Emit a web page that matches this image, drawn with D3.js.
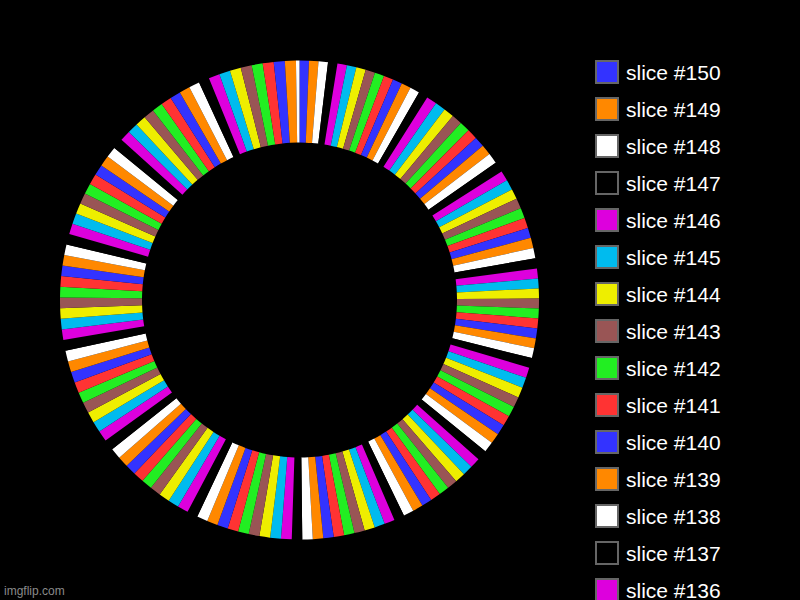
<!DOCTYPE html>
<html>
<head>
<meta charset="utf-8">
<script src="https://cdn.jsdelivr.net/npm/d3@7"></script>
<style>
  html, body { margin: 0; padding: 0; background: #000; overflow: hidden; }
  svg { display: block; }
</style>
</head>
<body>
<svg id="chart" width="800" height="600"></svg>
<script>
// Slice labels, in drawing order (clockwise from 12 o'clock)
const labels = [
  "slice #150","slice #149","slice #148","slice #147","slice #146","slice #145","slice #144","slice #143","slice #142","slice #141",
  "slice #140","slice #139","slice #138","slice #137","slice #136","slice #135","slice #134","slice #133","slice #132","slice #131",
  "slice #130","slice #129","slice #128","slice #127","slice #126","slice #125","slice #124","slice #123","slice #122","slice #121",
  "slice #120","slice #119","slice #118","slice #117","slice #116","slice #115","slice #114","slice #113","slice #112","slice #111",
  "slice #110","slice #109","slice #108","slice #107","slice #106","slice #105","slice #104","slice #103","slice #102","slice #101",
  "slice #100","slice #99","slice #98","slice #97","slice #96","slice #95","slice #94","slice #93","slice #92","slice #91",
  "slice #90","slice #89","slice #88","slice #87","slice #86","slice #85","slice #84","slice #83","slice #82","slice #81",
  "slice #80","slice #79","slice #78","slice #77","slice #76","slice #75","slice #74","slice #73","slice #72","slice #71",
  "slice #70","slice #69","slice #68","slice #67","slice #66","slice #65","slice #64","slice #63","slice #62","slice #61",
  "slice #60","slice #59","slice #58","slice #57","slice #56","slice #55","slice #54","slice #53","slice #52","slice #51",
  "slice #50","slice #49","slice #48","slice #47","slice #46","slice #45","slice #44","slice #43","slice #42","slice #41",
  "slice #40","slice #39","slice #38","slice #37","slice #36","slice #35","slice #34","slice #33","slice #32","slice #31",
  "slice #30","slice #29","slice #28","slice #27","slice #26","slice #25","slice #24","slice #23","slice #22","slice #21",
  "slice #20","slice #19","slice #18","slice #17","slice #16","slice #15","slice #14","slice #13","slice #12","slice #11",
  "slice #10","slice #9","slice #8"
];

// Slice values (estimated from the picture's angular widths)
const values = [
  228,228,228,228,
  231,231,231,231,231,231,231,231,231,231,
  253,253,253,253,253,253,253,253,253,253,
  249,249,249,249,249,249,249,249,249,249,
  240,240,240,240,240,240,240,240,240,240,
  252,252,252,252,252,252,252,252,252,252,
  250,250,250,250,250,250,250,250,250,250,
  252,252,252,252,252,252,252,252,252,252,
  260,260,260,260,260,260,260,260,260,260,
  262,262,262,262,262,262,262,262,262,262,
  263,263,263,263,263,263,263,263,263,263,
  256,256,256,256,256,256,256,256,256,256,
  260,260,260,260,260,260,260,260,260,260,
  258,258,258,258,258,258,258,258,258,258,
  267,267,267,267,267,267,267,267,
  85
];

// Colour palette, cycled over the slices
const palette = ["#3333ff","#ff8800","#ffffff","#000000","#dd00dd","#00bbee","#eeee00","#995555","#22ee22","#ff3333"];

// Number of legend rows that the picture shows (the rest fall below its edge)
const legendShown = 15;

const data = labels.map((l, i) => ({ label: l, value: values[i] }));
const color = d3.scaleOrdinal().domain(labels).range(palette);

const svg = d3.select("#chart");
const cx = 299.5, cy = 300;
const outerR = 239.5, innerR = 157.5;

const pie = d3.pie().sort(null).value(d => d.value).startAngle(0).endAngle(2 * Math.PI);
const arc = d3.arc().innerRadius(innerR).outerRadius(outerR);

svg.append("g")
  .attr("transform", `translate(${cx},${cy})`)
  .selectAll("path")
  .data(pie(data))
  .join("path")
  .attr("d", arc)
  .attr("fill", d => color(d.data.label));

// Legend
const legend = svg.append("g").attr("transform", "translate(595,60)");
const rowH = 37;
const items = legend.selectAll("g.item")
  .data(data.slice(0, legendShown))
  .join("g")
  .attr("class", "item")
  .attr("transform", (d, i) => `translate(0,${i * rowH})`);

items.append("rect")
  .attr("x", 1).attr("y", 1)
  .attr("width", 22).attr("height", 22)
  .attr("fill", d => color(d.label))
  .attr("stroke", "#666666")
  .attr("stroke-width", 2);

items.append("text")
  .attr("x", 31).attr("y", 20)
  .attr("fill", "#ffffff")
  .attr("font-family", "'Liberation Sans', Arial, Helvetica, sans-serif")
  .attr("font-size", 21)
  .text(d => d.label);

// Watermark
svg.append("text")
  .attr("x", 4).attr("y", 595)
  .attr("fill", "#8a8a8a")
  .attr("font-family", "'Liberation Sans', Arial, Helvetica, sans-serif")
  .attr("font-size", 12)
  .text("imgflip.com");
</script>
</body>
</html>
